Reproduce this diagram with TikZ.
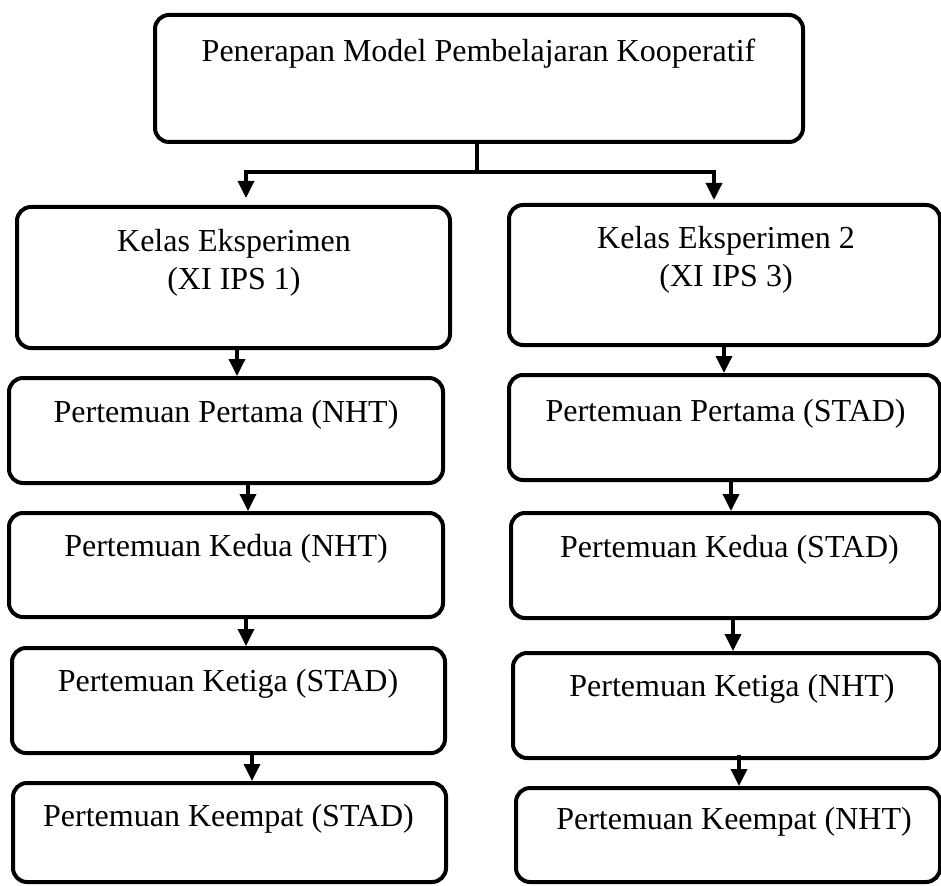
\documentclass[tikz,border=0pt]{standalone}
\usepackage{fontspec}
\setmainfont{Liberation Serif}
\usetikzlibrary{arrows.meta}
\tikzset{
  box/.style={draw=black, line width=4pt, rounded corners=14pt, fill=none, inner sep=0pt},
  txt/.style={font=\fontsize{32}{38}\selectfont, inner sep=0pt, align=center, text=black},
  ln/.style={draw=black, line width=3.5pt},
  arr/.style={ln, -{Triangle[width=16pt,length=17pt]}},
}
\begin{document}
\begin{tikzpicture}[x=1pt,y=-1pt]
\useasboundingbox (0,0) rectangle (941,885);
\clip (0,0) rectangle (941,885);
% boxes
\node[box, minimum width=648pt, minimum height=127pt] (top) at (479,78.5) {};
\node[box, minimum width=433pt, minimum height=141pt] (L1) at (233.5,277.5) {};
\node[box, minimum width=434pt, minimum height=105pt] (L2) at (226,430.5) {};
\node[box, minimum width=434pt, minimum height=104pt] (L3) at (226,565) {};
\node[box, minimum width=433pt, minimum height=105pt] (L4) at (228.5,700.5) {};
\node[box, minimum width=433pt, minimum height=99pt] (L5) at (229.5,832.5) {};
\node[box, minimum width=431pt, minimum height=140pt] (R1) at (724.5,275) {};
\node[box, minimum width=431pt, minimum height=105pt] (R2) at (724.5,427.5) {};
\node[box, minimum width=429pt, minimum height=105pt] (R3) at (725.5,565.5) {};
\node[box, minimum width=427pt, minimum height=105pt] (R4) at (726.5,705.5) {};
\node[box, minimum width=424pt, minimum height=94pt] (R5) at (728,835) {};
% texts
\node[txt] (t0) at (478.5,54) {Penerapan Model Pembelajaran Kooperatif};
\node[txt] (tL1) at (234,263) {Kelas Eksperimen\\(XI IPS 1)};
\node[txt] (tL2) at (226,415) {Pertemuan Pertama (NHT)};
\node[txt] (tL3) at (226,549) {Pertemuan Kedua (NHT)};
\node[txt] (tL4) at (228,684) {Pertemuan Ketiga (STAD)};
\node[txt] (tL5) at (228.5,819) {Pertemuan Keempat (STAD)};
\node[txt] (tR1) at (726,260) {Kelas Eksperimen 2\\(XI IPS 3)};
\node[txt] (tR2) at (725.5,414) {Pertemuan Pertama (STAD)};
\node[txt] (tR3) at (729.5,550) {Pertemuan Kedua (STAD)};
\node[txt] (tR4) at (732,689) {Pertemuan Ketiga (NHT)};
\node[txt] (tR5) at (734,822) {Pertemuan Keempat (NHT)};
% top connector
\coordinate (j) at (477,172);
\coordinate (jl) at (246,172);
\coordinate (jr) at (714,172);
\draw[ln] (j |- top.south) -- (j);
\draw[ln, line cap=rect] (jl) -- (jr);
\draw[arr, shorten >=7pt] (jl) -- (jl |- L1.north);
\draw[arr, shorten >=3pt] (jr) -- (jr |- R1.north);
% left column arrows
\coordinate (a1) at (237,0);
\coordinate (a2) at (248,0);
\coordinate (a3) at (246,0);
\coordinate (a4) at (252,0);
\draw[arr] (a1 |- L1.south) -- (a1 |- L2.north);
\draw[arr] (a2 |- L2.south) -- (a2 |- L3.north);
\draw[arr] (a3 |- L3.south) -- (a3 |- L4.north);
\draw[arr] (a4 |- L4.south) -- (a4 |- L5.north);
% right column arrows
\coordinate (b1) at (724,0);
\coordinate (b2) at (731,0);
\coordinate (b3) at (733,0);
\coordinate (b4) at (739,0);
\draw[arr] (b1 |- R1.south) -- (b1 |- R2.north);
\draw[arr] (b2 |- R2.south) -- (b2 |- R3.north);
\draw[arr] (b3 |- R3.south) -- (b3 |- R4.north);
\draw[arr, shorten <=-5pt] (b4 |- R4.south) -- (b4 |- R5.north);
\end{tikzpicture}
\end{document}
